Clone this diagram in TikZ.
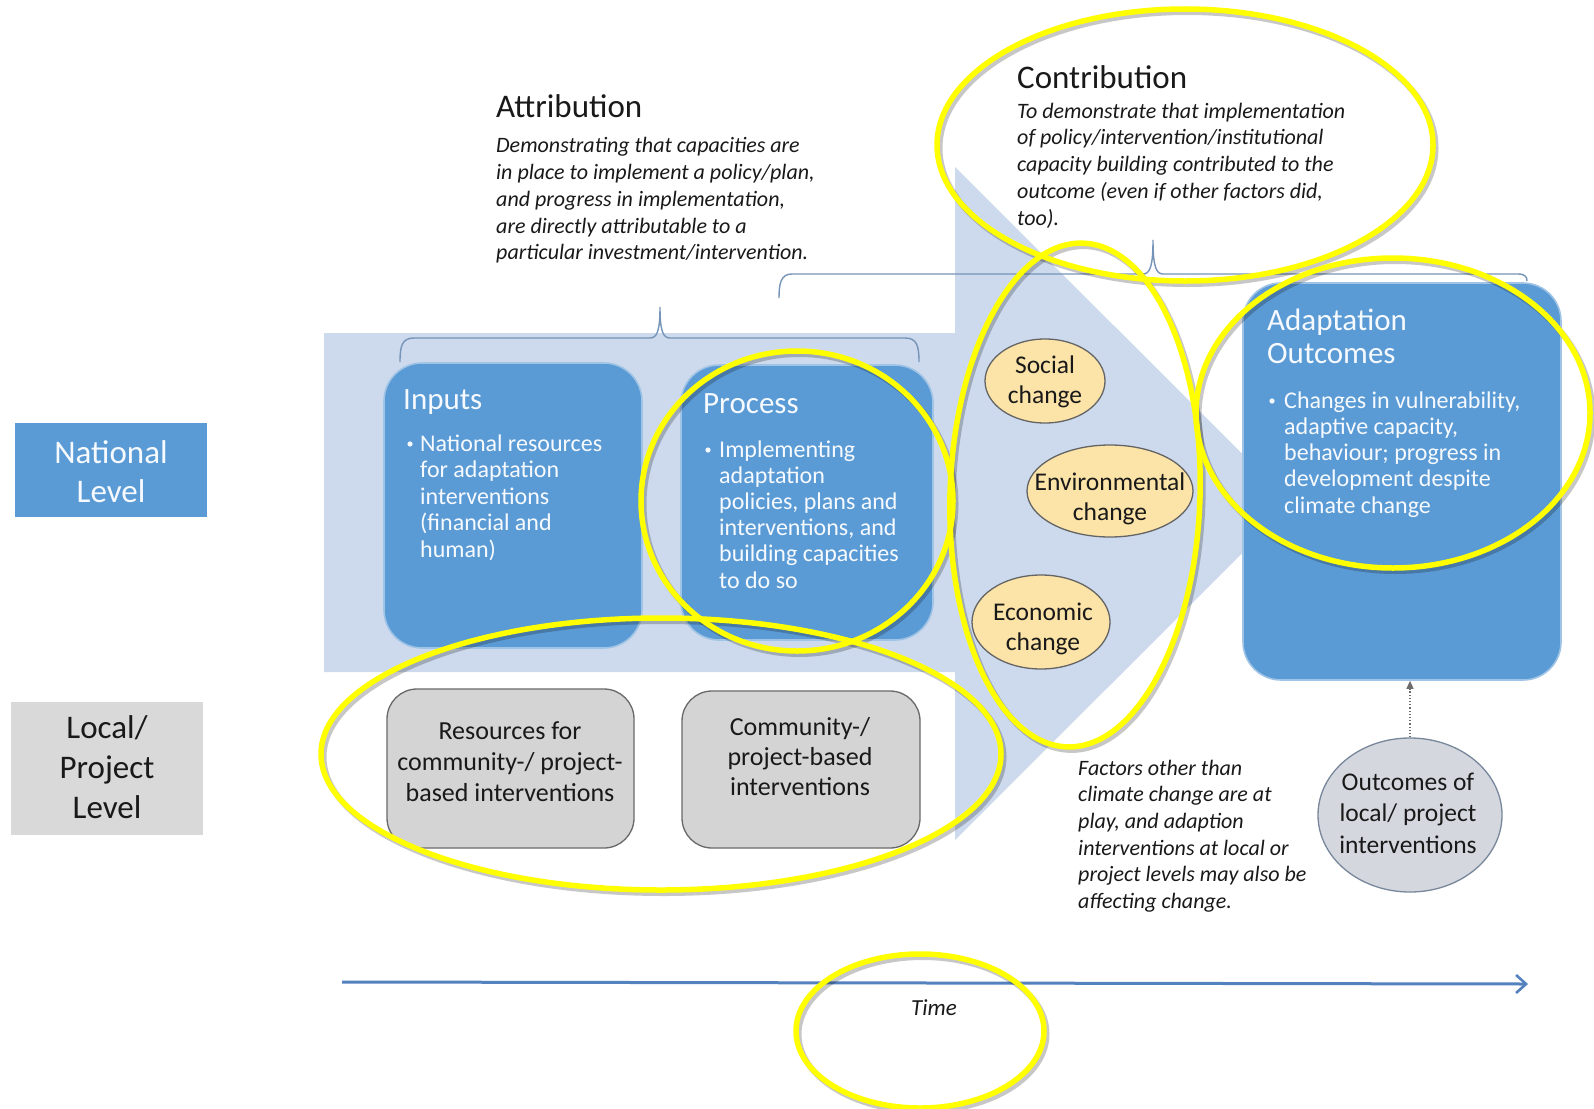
\documentclass[tikz,border=0pt]{standalone}
\usepackage{fontspec}
\setmainfont{Carlito}
\usetikzlibrary{arrows.meta,shapes.geometric}
\definecolor{arrowbg}{RGB}{205,218,237}
\definecolor{boxblue}{RGB}{91,155,213}
\definecolor{boxedge}{RGB}{160,196,230}
\definecolor{boxtext}{RGB}{246,250,254}
\definecolor{graybox}{RGB}{212,212,212}
\definecolor{grayedge}{RGB}{105,105,105}
\definecolor{levelgray}{RGB}{217,217,217}
\definecolor{changefill}{RGB}{252,228,168}
\definecolor{changeedge}{RGB}{100,100,100}
\definecolor{outfill}{RGB}{212,216,222}
\definecolor{outedge}{RGB}{120,135,155}
\definecolor{bracecol}{RGB}{118,148,184}
\definecolor{timecol}{RGB}{84,130,190}
\definecolor{hilite}{RGB}{255,255,0}
\definecolor{inktext}{RGB}{25,25,25}
\begin{document}
\begin{tikzpicture}[x=1pt,y=-1pt,
  bluebox/.style={draw=boxedge,line width=1.6pt,fill=boxblue,rounded corners=38pt,inner sep=0pt},
  graybx/.style={draw=grayedge,line width=1.3pt,fill=graybox,rounded corners=30pt,inner sep=0pt},
  levelblue/.style={fill=boxblue,inner sep=0pt},
  levelgr/.style={fill=levelgray,inner sep=0pt},
  changeell/.style={ellipse,draw=changeedge,line width=1.3pt,fill=changefill,inner sep=0pt},
  outell/.style={ellipse,draw=outedge,line width=1.3pt,fill=outfill,inner sep=0pt},
  txt/.style={inner sep=0pt,anchor=base west,align=left},
  ctxt/.style={inner sep=0pt,anchor=base,align=center},
  changetxt/.style={ctxt,text=inktext,font=\fontsize{25.5}{30}\selectfont},
  boxtitle/.style={txt,text=boxtext,font=\fontsize{31}{33.5}\selectfont},
  boxbody/.style={txt,text=boxtext,font=\fontsize{24}{26.6}\selectfont},
  headline/.style={txt,text=inktext,font=\fontsize{33}{40}\selectfont},
  itbody/.style={txt,text=inktext,font=\itshape\fontsize{22}{26.8}\selectfont},
  brace/.style={draw=bracecol,line width=1.4pt},
  hl/.style={draw=hilite,line width=5.5pt},
  hlshadow/.style={draw=black,opacity=0.22,line width=6pt},
  bul/.style={fill=boxtext}
]
\useasboundingbox (0,0) rectangle (1594,1108);
\fill[white] (0,0) rectangle (1594,1108);

% big light arrow
\fill[arrowbg] (324,333) -- (955,333) -- (955,167) -- (1292,503.5) -- (955,840) -- (955,672) -- (324,672) -- cycle;

% brackets
\draw[brace] (400,362) .. controls (400,346) and (402,338) .. (414,338) -- (650,338)
  .. controls (657,338) and (660,331) .. (660,307) .. controls (660,331) and (663,338) .. (670,338)
  -- (905,338) .. controls (917,338) and (919,346) .. (919,362);
\draw[brace] (779,298) .. controls (779,283) and (781,274) .. (792,274) -- (1143,274)
  .. controls (1150,274) and (1153,266) .. (1153,240) .. controls (1153,266) and (1156,274) .. (1163,274)
  -- (1518,274) .. controls (1525,274) and (1527,277) .. (1527,281);

% level labels
\node[levelblue, minimum width=192pt, minimum height=94pt] (natl) at (111,470) {};
\node[ctxt, text=boxtext, font=\fontsize{33}{39.5}\selectfont] (natlT) at (111,502.5) {National\\Level};
\node[levelgr, minimum width=192pt, minimum height=133pt] (locl) at (107,768.5) {};
\node[ctxt, text=inktext, font=\fontsize{33}{40}\selectfont] (loclT) at (107,818) {Local/\\Project\\Level};

% national boxes
\node[bluebox, minimum width=258pt, minimum height=285pt] (inputs) at (513,505.5) {};
\node[boxtitle] (inputsT) at (403,409) {Inputs};
\fill[bul] (410,444) circle (2.6pt);
\node[boxbody] (inputsB) at (420,557.4) {National resources\\for adaptation\\interventions\\(financial and\\human)};

\node[bluebox, minimum width=252pt, minimum height=275pt] (process) at (807,502.5) {};
\node[boxtitle] (processT) at (703,413) {Process};
\fill[bul] (708,450) circle (2.6pt);
\node[boxbody, font=\fontsize{24}{26.2}\selectfont] (processB) at (719,588) {Implementing\\adaptation\\policies, plans and\\interventions, and\\building capacities\\to do so};

\node[bluebox, minimum width=318pt, minimum height=397pt] (adapt) at (1402,481.5) {};
\node[boxtitle] (adaptT) at (1267,363.5) {Adaptation\\Outcomes};
\fill[bul] (1272,401) circle (2.6pt);
\node[boxbody, font=\fontsize{24}{26.3}\selectfont] (adaptB) at (1284,513.2) {Changes in vulnerability,\\adaptive capacity,\\behaviour; progress in\\development despite\\climate change};

% local boxes
\node[graybx, minimum width=247pt, minimum height=159pt] (resources) at (510.5,768.5) {};
\node[ctxt, text=inktext, font=\fontsize{26}{31}\selectfont] (resourcesT) at (510,801) {Resources for\\community-/ project-\\based interventions};
\node[graybx, minimum width=238pt, minimum height=157pt] (community) at (801,769.5) {};
\node[ctxt, text=inktext, font=\fontsize{26}{30}\selectfont] (communityT) at (800,795) {Community-/\\project-based\\interventions};

% change ellipses
\node[changeell, minimum width=120pt, minimum height=84pt] (social) at (1045,381) {};
\node[changetxt] (socialT) at (1045,403) {Social\\change};
\node[changeell, minimum width=166pt, minimum height=92pt] (environ) at (1110,491) {};
\node[changetxt] (environT) at (1110,520) {Environmental\\change};
\node[changeell, minimum width=138pt, minimum height=94pt] (econ) at (1041,622) {};
\node[changetxt] (econT) at (1043,650) {Economic\\change};

% outcomes of local/project
\node[outell, minimum width=184pt, minimum height=154pt] (outloc) at (1410,815) {};
\node[ctxt, text=inktext, font=\fontsize{25.5}{31.5}\selectfont] (outlocT) at (1408,853) {Outcomes of\\local/ project\\interventions};
\draw[draw=gray!85!black, line width=1.2pt, dotted, -{Triangle[length=8pt,width=7pt]}] (outloc.north) -- (outloc.north |- adapt.south);

% headings and notes
\node[headline] (attrT) at (496,117) {Attribution};
\node[itbody] (attrB) at (496,259.9) {Demonstrating that capacities are\\in place to implement a policy/plan,\\and progress in implementation,\\are directly attributable to a\\particular investment/intervention.};
\node[headline] (contT) at (1017,88) {Contribution};
\node[itbody] (contB) at (1017,225.2) {To demonstrate that implementation\\of policy/intervention/institutional\\capacity building contributed to the\\outcome (even if other factors did,\\too).};
\node[itbody, font=\itshape\fontsize{22}{26.7}\selectfont] (factors) at (1078,908.5) {Factors other than\\climate change are at\\play, and adaption\\interventions at local or\\project levels may also be\\affecting change.};

% time axis
\coordinate (t0) at (342,982);
\coordinate (t1) at (1528,984);
\draw[timecol, line width=3pt, -{Straight Barb[length=10pt,width=18pt,line width=2.6pt]}] (t0) -- (t1);
\node[ctxt, text=inktext, font=\itshape\fontsize{23}{28}\selectfont] (timeL) at (934,1015) {Time};

% yellow highlights
\begin{scope}[shift={(2.5,3)}]
\draw[hlshadow] (1185,145) ellipse [x radius=248pt, y radius=136pt];
\draw[hlshadow] (1075,495) [rotate around={-1.8:(1075,495)}] ellipse [x radius=125pt, y radius=252pt];
\draw[hlshadow] (1393,413) ellipse [x radius=197pt, y radius=155pt];
\draw[hlshadow] (797,501) ellipse [x radius=156pt, y radius=150pt];
\draw[hlshadow] (661,754) ellipse [x radius=340pt, y radius=136pt];
\draw[hlshadow] (920,1031) ellipse [x radius=124pt, y radius=77pt];
\end{scope}
\draw[hl] (1185,145) ellipse [x radius=248pt, y radius=136pt];
\draw[hl] (1075,495) [rotate around={-1.8:(1075,495)}] ellipse [x radius=125pt, y radius=252pt];
\draw[hl] (1393,413) ellipse [x radius=197pt, y radius=155pt];
\draw[hl] (797,501) ellipse [x radius=156pt, y radius=150pt];
\draw[hl] (661,754) ellipse [x radius=340pt, y radius=136pt];
\draw[hl] (920,1031) ellipse [x radius=124pt, y radius=77pt];
\end{tikzpicture}
\end{document}
